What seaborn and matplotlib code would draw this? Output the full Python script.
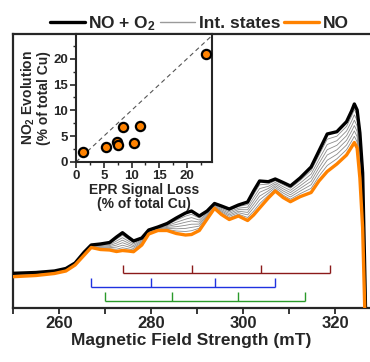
import numpy as np
import pandas as pd
import matplotlib
matplotlib.use("Agg")
import matplotlib.pyplot as plt
from matplotlib.lines import Line2D
import seaborn as sns

# EPR spectra (arbitrary intensity), field in mT
field = [250.0, 255.0, 259.0, 261.5, 263.5, 265.5, 267.0, 269.0, 271.0, 272.5,
         273.8, 275.0, 276.2, 278.0, 279.5, 281.5, 283.5, 285.5, 287.5, 288.8,
         290.5, 292.2, 293.8, 295.3, 297.0, 299.0, 301.0, 302.3, 303.6, 305.5,
         307.0, 308.7, 310.3, 312.4, 314.8, 316.5, 318.3, 320.4, 322.5, 323.6,
         324.2, 324.8, 325.4, 326.0, 326.4, 326.8]

no_o2 = [34.7, 35.5, 37.0, 39.5, 45.0, 56.0, 63.0, 64.0, 65.5, 71.0,
         75.3, 71.0, 67.0, 70.0, 78.0, 81.0, 84.5, 90.0, 95.0, 97.0,
         92.0, 97.0, 104.5, 102.0, 99.0, 103.0, 106.0, 117.0, 127.0, 126.3,
         129.0, 125.5, 122.0, 130.0, 141.0, 157.0, 174.0, 176.3, 186.3, 197.0,
         204.0, 198.0, 175.0, 135.0, 50.0, -40.0]

no_only = [31.3, 32.5, 34.5, 37.0, 43.0, 53.0, 60.5, 58.5, 58.0, 56.5,
           57.5, 57.0, 56.3, 63.0, 74.0, 77.5, 77.5, 74.5, 73.0, 73.5,
           77.5, 89.0, 99.7, 93.5, 88.5, 92.0, 87.5, 93.0, 100.0, 110.0,
           117.0, 110.5, 106.3, 111.3, 115.5, 127.0, 136.5, 144.0, 153.0, 161.0,
           165.5, 160.0, 130.0, 80.0, 10.0, -60.0]

# intermediate states, one column per grid point
int_states = [
    [34.2, 35.1, 36.7, 39.2, 44.7, 55.6, 62.7, 63.2, 64.5, 69.0, 72.8, 69.0, 65.5, 69.0, 77.4, 80.5,
     83.5, 87.8, 91.9, 93.7, 90.0, 95.9, 103.8, 100.8, 97.5, 101.5, 103.4, 113.6, 123.2, 124.0, 127.3,
     123.4, 119.8, 127.4, 137.4, 152.8, 168.8, 171.8, 181.6, 192.0, 198.6, 192.7, 168.7, 127.3, 44.4, -42.8],
    [33.7, 34.7, 36.3, 38.8, 44.4, 55.2, 62.3, 62.5, 63.4, 67.0, 70.3, 67.1, 64.0, 68.0, 76.9, 80.0,
     82.5, 85.7, 88.8, 90.4, 87.9, 94.8, 103.2, 99.6, 96.1, 99.9, 100.8, 110.3, 119.4, 121.7, 125.6,
     121.3, 117.6, 124.8, 133.9, 148.6, 163.5, 167.3, 177.0, 186.9, 193.2, 187.4, 162.4, 119.6, 38.8, -45.6],
    [33.3, 34.2, 36.0, 38.5, 44.2, 54.7, 62.0, 61.7, 62.4, 64.9, 67.8, 65.1, 62.5, 67.1, 76.3, 79.5,
     81.6, 83.5, 85.8, 87.1, 85.9, 93.6, 102.5, 98.4, 94.6, 98.4, 98.2, 106.9, 115.7, 119.5, 124.0,
     119.2, 115.4, 122.1, 130.3, 144.4, 158.3, 162.7, 172.3, 181.9, 187.8, 182.0, 156.1, 111.9, 33.2, -48.4],
    [32.8, 33.8, 35.6, 38.1, 43.9, 54.3, 61.6, 60.9, 61.3, 62.9, 65.3, 63.2, 61.0, 66.1, 75.8, 79.0,
     80.6, 81.3, 82.7, 83.8, 83.9, 92.5, 101.8, 97.2, 93.1, 96.8, 95.6, 103.6, 111.9, 117.2, 122.3,
     117.1, 113.2, 119.5, 126.7, 140.2, 153.0, 158.2, 167.7, 176.8, 182.4, 176.7, 149.8, 104.2, 27.6, -51.2],
    [32.3, 33.4, 35.3, 37.8, 43.6, 53.9, 61.3, 60.2, 60.3, 60.9, 62.8, 61.2, 59.5, 65.1, 75.2, 78.6,
     79.6, 79.2, 79.6, 80.6, 81.9, 91.4, 101.1, 96.1, 91.7, 95.3, 93.1, 100.2, 108.1, 114.9, 120.6,
     115.0, 111.0, 116.9, 123.2, 136.0, 147.8, 153.7, 163.0, 171.8, 177.1, 171.4, 143.5, 96.5, 22.0, -54.0],
    [31.8, 33.0, 34.9, 37.4, 43.3, 53.5, 60.9, 59.4, 59.2, 58.8, 60.3, 59.2, 58.0, 64.1, 74.6, 78.1,
     78.6, 77.0, 76.5, 77.3, 79.8, 90.3, 100.5, 94.9, 90.2, 93.8, 90.5, 96.8, 104.3, 112.6, 118.9,
     112.9, 108.8, 114.3, 119.6, 131.8, 142.5, 149.2, 158.3, 166.8, 171.7, 166.1, 137.2, 88.8, 16.4, -56.8],
]

# stick diagrams (hyperfine positions, mT)
red_pos = [274, 289, 304, 319]
blue_pos = [267, 280, 294, 307]
green_pos = [270, 284.5, 299, 313.5]

# inset data
epr_loss = [1.25, 5.4, 7.3, 7.6, 8.5, 10.5, 11.6, 23.4]
no2_evol = [1.9, 3.0, 3.9, 3.3, 6.7, 3.6, 6.9, 21.0]

sns.set_style("ticks")
plt.rcParams["font.family"] = ["Liberation Sans", "DejaVu Sans"]
plt.rcParams["font.weight"] = "bold"
plt.rcParams["mathtext.fontset"] = "custom"
plt.rcParams["mathtext.rm"] = "Liberation Sans:bold"
plt.rcParams["mathtext.bf"] = "Liberation Sans:bold"
plt.rcParams["mathtext.default"] = "bf"

orange = "#FF8200"

fig = plt.figure(figsize=(3.7, 3.62), dpi=100)
ax = fig.add_axes([13 / 370, 54 / 362, 357 / 370, 274 / 362])

for k, row in enumerate(int_states):
    d = pd.DataFrame({"field": field, "y": row})
    sns.lineplot(data=d, x="field", y="y", ax=ax, color="#8c8c8c", lw=0.6,
                 sort=False, estimator=None, zorder=2)
sns.lineplot(x=field, y=no_o2, ax=ax, color="black", lw=2.4, sort=False,
             estimator=None, zorder=3)
sns.lineplot(x=field, y=no_only, ax=ax, color=orange, lw=2.4, sort=False,
             estimator=None, zorder=4)

# stick diagrams
for pos, base, col in [(red_pos, 34.7, "#8B1A1A"), (blue_pos, 21.3, "#1F32E0"),
                       (green_pos, 7.3, "#2A9A2A")]:
    ax.hlines(base, pos[0], pos[-1], color=col, lw=1.0)
    ax.vlines(pos, base, base + 8.4, color=col, lw=1.0)

ax.set_xlim(250, 327.6)
ax.set_ylim(0, 274)
ax.set_xticks([260, 280, 300, 320])
ax.set_xticks([250, 270, 290, 310], minor=True)
ax.set_yticks([])
ax.set_ylabel("")
ax.set_xlabel("Magnetic Field Strength (mT)", fontsize=12.5, fontweight="bold", labelpad=1)
ax.tick_params(axis="x", which="both", direction="out", length=4, width=1.3,
               labelsize=12, pad=2)
for s in ["left", "bottom", "top"]:
    ax.spines[s].set_linewidth(1.6)
ax.spines["right"].set_visible(False)

handles = [Line2D([], [], color="black", lw=2.4),
           Line2D([], [], color="#9a9a9a", lw=1.0),
           Line2D([], [], color=orange, lw=2.4)]
ax.legend(handles, ["NO + O$_2$", "Int. states", "NO"], loc="lower center",
          bbox_to_anchor=(0.522, 0.98), ncol=3, frameon=False,
          prop={"size": 12.5, "weight": "bold"}, handlelength=2.0,
          handletextpad=0.2, columnspacing=0.25, borderaxespad=0.0)

# inset
axi = fig.add_axes([76 / 370, 200 / 362, 136 / 370, 128 / 362])
axi.set_facecolor("white")
axi.plot([0, 30], [0, 30], ls=(0, (4, 3)), color="#555555", lw=0.8, zorder=1)
sns.scatterplot(x=epr_loss, y=no2_evol, ax=axi, color=orange, edgecolor="black",
                linewidth=1.6, s=44, zorder=3)
axi.set_xlim(0, 24.5)
axi.set_ylim(0, 24.8)
axi.set_xticks([0, 5, 10, 15, 20])
axi.set_yticks([0, 5, 10, 15, 20])
axi.set_xticks(np.arange(2.5, 24, 5), minor=True)
axi.set_yticks(np.arange(2.5, 24, 5), minor=True)
axi.tick_params(which="major", direction="out", length=4, width=1.2, labelsize=9.5, pad=1.5)
axi.tick_params(which="minor", direction="out", length=2.5, width=1.0)
axi.set_xlabel("EPR Signal Loss\n(% of total Cu)", fontsize=10, fontweight="bold",
               labelpad=1, linespacing=1.0)
axi.set_ylabel("NO$_2$ Evolution\n(% of total Cu)", fontsize=10, fontweight="bold",
               labelpad=2, linespacing=1.0)
for s in axi.spines.values():
    s.set_linewidth(1.5)

fig.savefig("out.png", dpi=100)
